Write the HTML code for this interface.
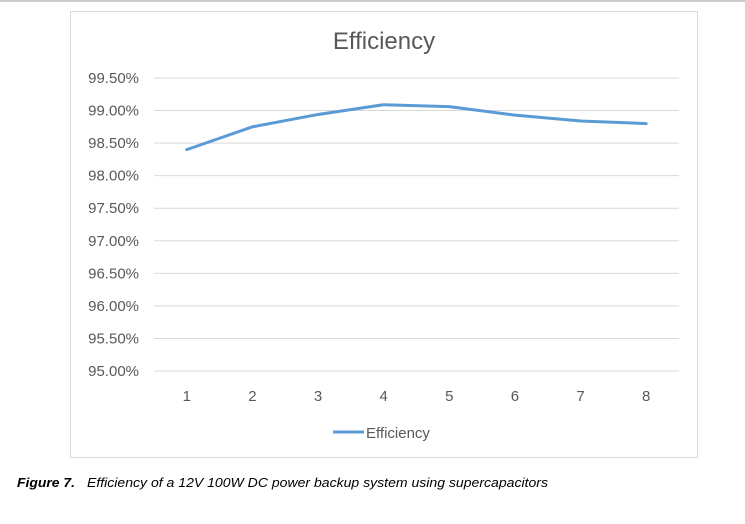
<!DOCTYPE html>
<html><head><meta charset="utf-8"><style>
body{margin:0;background:#fff;width:745px;height:519px;overflow:hidden;font-family:"Liberation Sans",sans-serif}
</style></head><body>
<svg width="745" height="519">
<line x1="0" y1="1" x2="745" y2="1" stroke="#bbb" stroke-width="1.5"/>
<rect x="70.5" y="11.5" width="627" height="446" fill="#fff" stroke="#d9d9d9"/>
<text x="384" y="49" text-anchor="middle" font-size="24" fill="#595959">Efficiency</text>
<g id="grid"></g><g id="ylab"></g><g id="xlab"></g>
<polyline id="line" fill="none" stroke="#5b9bd5" stroke-width="3" stroke-linejoin="round" stroke-linecap="round"/>
<line x1="333" y1="432" x2="364" y2="432" stroke="#5b9bd5" stroke-width="3"/>
<text x="366" y="438" font-size="15" fill="#595959">Efficiency</text>
<text x="17" y="487" font-size="13" font-style="italic" font-weight="bold" fill="#000" textLength="58" lengthAdjust="spacingAndGlyphs">Figure 7.</text>
<text x="87" y="487" font-size="13" font-style="italic" fill="#000" textLength="461" lengthAdjust="spacingAndGlyphs">Efficiency of a 12V  100W DC power  backup system using supercapacitors</text>
</svg>
<script>
const categories=["1","2","3","4","5","6","7","8"];
const values=[98.40,98.75,98.94,99.09,99.06,98.93,98.84,98.80];
const yTicks=[95.0,95.5,96.0,96.5,97.0,97.5,98.0,98.5,99.0,99.5];
const NS="http://www.w3.org/2000/svg";
const x0=154,x1=679,yTop=78,yBot=371,yMin=95,yMax=99.5;
const xs=i=>x0+(x1-x0)/categories.length*(i+0.5);
const ys=v=>yBot-(v-yMin)/(yMax-yMin)*(yBot-yTop);
function mk(t,a){const e=document.createElementNS(NS,t);for(const k in a)e.setAttribute(k,a[k]);return e;}
const g=document.getElementById('grid'),yl=document.getElementById('ylab'),xl=document.getElementById('xlab');
yTicks.forEach(v=>{
 const l=mk('line',{x1:x0,x2:x1,y1:ys(v),y2:ys(v),stroke:'#d9d9d9','stroke-width':1});
 
 
 g.appendChild(l);
 const t=mk('text',{x:139,y:ys(v)+5,'text-anchor':'end','font-size':15,fill:'#595959'});
 t.textContent=v.toFixed(2)+'%';
 
 
 yl.appendChild(t);
});
categories.forEach((c,i)=>{
 const t=mk('text',{x:xs(i),y:401,'text-anchor':'middle','font-size':15,fill:'#595959'});
 t.textContent=c;
 
 
 xl.appendChild(t);
});
document.getElementById('line').setAttribute('points',values.map((v,i)=>xs(i)+','+ys(v)).join(' '));
</script>
</body></html>
